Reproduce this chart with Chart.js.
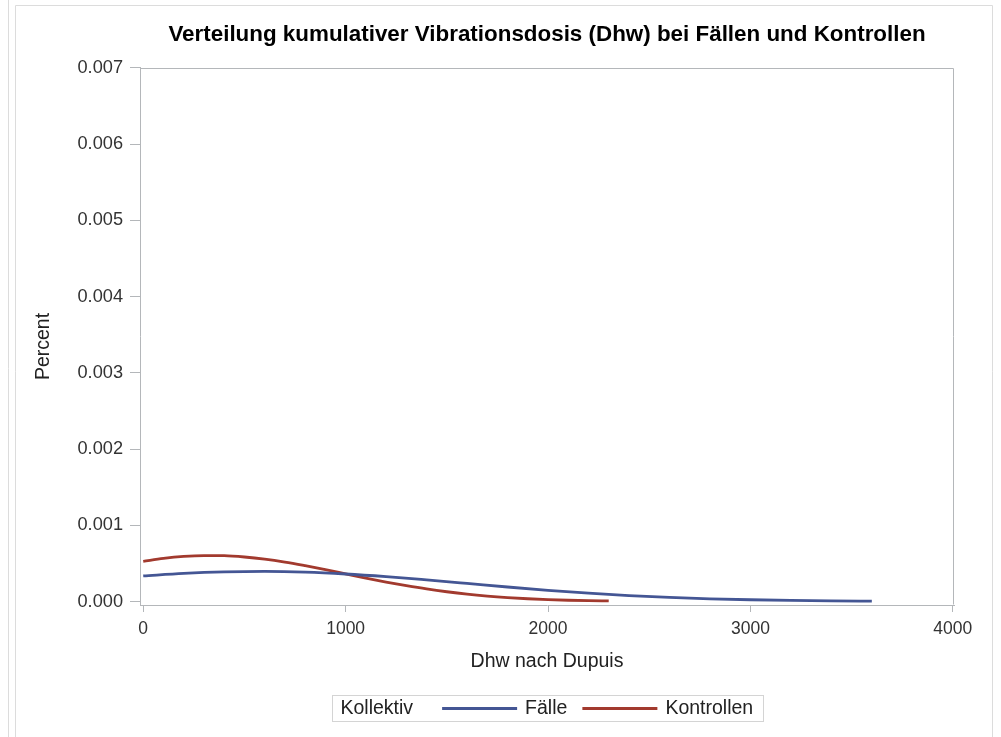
<!DOCTYPE html>
<html>
<head>
<meta charset="utf-8">
<title>Verteilung kumulativer Vibrationsdosis</title>
<script src="https://cdn.jsdelivr.net/npm/chart.js@4.4.1/dist/chart.umd.min.js"></script>
<style>
  html, body { margin: 0; padding: 0; background: #fff; }
  canvas { display: block; }
</style>
</head>
<body>
<canvas id="chart" width="1001" height="737"></canvas>
<script>
'use strict';

// --- data ---
var chartTitle = 'Verteilung kumulativer Vibrationsdosis (Dhw) bei Fällen und Kontrollen';
var xAxisTitle = 'Dhw nach Dupuis';
var yAxisTitle = 'Percent';
var legendTitle = 'Kollektiv';
var seriesNames = ['Fälle', 'Kontrollen'];

var xTicks = [0, 1000, 2000, 3000, 4000];
var yTicks = [0, 0.001, 0.002, 0.003, 0.004, 0.005, 0.006, 0.007];

var faelleX = [0, 200, 400, 600, 800, 1000, 1200, 1400, 1600, 1800,
    2000, 2200, 2400, 2600, 2800, 3000, 3200, 3400, 3600];
var faelleY = [0.000335, 0.000368, 0.000388, 0.000394, 0.000385, 0.000361,
    0.000326, 0.000283, 0.000237, 0.000190, 0.000147, 0.000109, 0.0000782,
    0.0000537, 0.0000355, 0.0000226, 0.0000138, 0.0000081, 0.0000046];

var kontrollenX = [0, 100, 200, 300, 400, 500, 600, 700, 800, 900, 1000,
    1100, 1200, 1300, 1400, 1500, 1600, 1700, 1800, 1900, 2000, 2100, 2200, 2300];
var kontrollenY = [0.000527, 0.000566, 0.000592, 0.000603, 0.000601, 0.000584,
    0.000556, 0.000517, 0.000469, 0.000417, 0.000362, 0.000307, 0.000255,
    0.000208, 0.000165, 0.000128, 0.0000965, 0.0000713, 0.0000515, 0.0000363,
    0.0000247, 0.0000166, 0.0000110, 0.0000071];

// --- styles ---
var seriesColors = ['#445694', '#A23A2E'];
var axisColor = '#b4b7ba';
var frameColor = '#dcdcdc';
var fontFamily = '"Liberation Sans", Arial, sans-serif';

function toPoints(xs, ys) {
    return xs.map(function (x, i) {
        return { x: x, y: ys[i] };
    });
}

var framePlugin = {
    id: 'sasFrame',
    beforeDraw: function (chart) {
        var ctx = chart.ctx;
        ctx.save();
        ctx.fillStyle = '#ffffff';
        ctx.fillRect(0, 0, chart.width, chart.height);
        ctx.restore();
    },
    afterDraw: function (chart) {
        var ctx = chart.ctx;
        var a = chart.chartArea;
        var left = Math.round(a.left) + 0.5;
        var right = Math.round(a.right) - 0.5;
        var top = Math.round(a.top) + 0.5;
        var bottom = Math.round(a.bottom) - 0.5;

        ctx.save();

        // page borders
        ctx.strokeStyle = frameColor;
        ctx.lineWidth = 1;
        ctx.beginPath();
        ctx.moveTo(8.5, 0);
        ctx.lineTo(8.5, chart.height);
        ctx.moveTo(15.5, chart.height);
        ctx.lineTo(15.5, 5.5);
        ctx.lineTo(992.5, 5.5);
        ctx.lineTo(992.5, chart.height);
        ctx.stroke();

        // plot frame (top and right)
        ctx.strokeStyle = axisColor;
        ctx.beginPath();
        ctx.moveTo(left, top);
        ctx.lineTo(right, top);
        ctx.lineTo(right, bottom);
        ctx.stroke();

        // y axis title, sits a bit below the plot centre like the SAS output
        ctx.save();
        ctx.translate(44, (a.top + a.bottom) / 2 + 10);
        ctx.rotate(-Math.PI / 2);
        ctx.font = '19.5px ' + fontFamily;
        ctx.fillStyle = '#222';
        ctx.textAlign = 'center';
        ctx.textBaseline = 'middle';
        ctx.fillText(yAxisTitle, 0, 0);
        ctx.restore();

        // legend
        ctx.font = '19.5px ' + fontFamily;
        ctx.textBaseline = 'middle';
        ctx.fillStyle = '#222';
        var lineLen = 75;
        var widths = [legendTitle].concat(seriesNames).map(function (t) {
            return ctx.measureText(t).width;
        });
        var boxW = 8 + widths[0] + 29 + lineLen + 8 + widths[1] + 15 + lineLen + 8 + widths[2] + 10;
        var boxX = Math.round((a.left + a.right) / 2 - boxW / 2) + 0.5;
        var boxY = 695.5;
        var cy = 708.5;

        ctx.strokeStyle = '#d4d4d4';
        ctx.strokeRect(boxX, boxY, Math.round(boxW), 26);

        var x = boxX + 8;
        ctx.fillText(legendTitle, x, cy);
        x += widths[0] + 29;
        seriesNames.forEach(function (name, i) {
            ctx.strokeStyle = seriesColors[i];
            ctx.lineWidth = 3;
            ctx.beginPath();
            ctx.moveTo(x, cy);
            ctx.lineTo(x + lineLen, cy);
            ctx.stroke();
            x += lineLen + 8;
            ctx.fillText(name, x, cy);
            x += widths[i + 1] + 15;
        });

        ctx.restore();
    }
};

var ctx = document.getElementById('chart').getContext('2d');

new Chart(ctx, {
    type: 'line',
    data: {
        datasets: [
            {
                label: seriesNames[0],
                data: toPoints(faelleX, faelleY),
                borderColor: seriesColors[0],
                backgroundColor: seriesColors[0],
                borderWidth: 2.8,
                pointRadius: 0,
                cubicInterpolationMode: 'monotone',
                fill: false
            },
            {
                label: seriesNames[1],
                data: toPoints(kontrollenX, kontrollenY),
                borderColor: seriesColors[1],
                backgroundColor: seriesColors[1],
                borderWidth: 2.8,
                pointRadius: 0,
                cubicInterpolationMode: 'monotone',
                fill: false
            }
        ]
    },
    options: {
        responsive: false,
        animation: false,
        events: [],
        layout: {
            padding: { top: 0, left: 21, right: 47, bottom: 57 }
        },
        plugins: {
            legend: { display: false },
            tooltip: { enabled: false },
            title: {
                display: true,
                fullSize: false,
                text: chartTitle,
                color: '#000',
                font: { family: fontFamily, size: 22.4, weight: 'bold', lineHeight: 1.2 },
                padding: { top: 21.5, bottom: 19.6 }
            }
        },
        scales: {
            x: {
                type: 'linear',
                min: -16,
                max: 4006,
                afterBuildTicks: function (scale) {
                    scale.ticks = xTicks.map(function (v) { return { value: v }; });
                },
                afterFit: function (scale) {
                    scale.height = 75;
                },
                ticks: {
                    color: '#333',
                    padding: 7,
                    maxRotation: 0,
                    font: { family: fontFamily, size: 17.5 },
                    callback: function (v) { return String(v); }
                },
                grid: {
                    drawOnChartArea: false,
                    drawTicks: true,
                    tickLength: 7,
                    color: axisColor
                },
                border: { display: true, color: axisColor },
                title: {
                    display: true,
                    text: xAxisTitle,
                    color: '#222',
                    font: { family: fontFamily, size: 19.5, lineHeight: 1.2 },
                    padding: { top: 0, bottom: 7 }
                }
            },
            y: {
                type: 'linear',
                min: -0.000046,
                max: 0.007,
                afterBuildTicks: function (scale) {
                    scale.ticks = yTicks.map(function (v) { return { value: v }; });
                },
                afterFit: function (scale) {
                    scale.width = 119;
                },
                ticks: {
                    color: '#333',
                    padding: 7,
                    font: { family: fontFamily, size: 18.2 },
                    callback: function (v) { return v.toFixed(3); }
                },
                grid: {
                    drawOnChartArea: false,
                    drawTicks: true,
                    tickLength: 10,
                    color: axisColor
                },
                border: { display: true, color: axisColor },
                title: { display: false }
            }
        }
    },
    plugins: [framePlugin]
});
</script>
</body>
</html>
